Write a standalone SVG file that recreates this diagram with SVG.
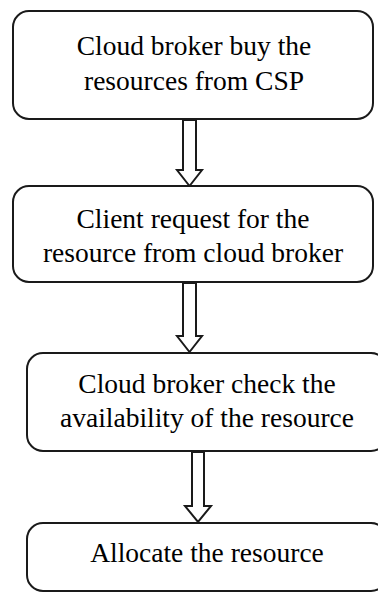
<svg xmlns="http://www.w3.org/2000/svg" width="378" height="593" viewBox="0 0 378 593">
<style>
.box{fill:#fff;stroke:#1a1a1a;stroke-width:2}
.arr{fill:#fff;stroke:#1a1a1a;stroke-width:2;stroke-linejoin:miter}
text{font-family:"Liberation Serif","Times New Roman",serif;font-size:27.5px;fill:#000;text-anchor:middle}
</style>
<rect width="378" height="593" fill="#fff"/>
<g id="connectors">
<polygon class="arr" points="183,120 196,120 196,170 202,170 189.5,186 177,170 183,170"/>
<polygon class="arr" points="183,283 196,283 196,336 202,336 189.5,352 177,336 183,336"/>
<polygon class="arr" points="192,452 204,452 204,506 211,506 198,522 185,506 192,506"/>
</g>
<g id="n1">
<rect class="box" x="13" y="11" width="360" height="108" rx="16"/>
<text x="194" y="55">Cloud broker buy the</text>
<text x="194" y="90">resources from CSP</text>
</g>
<g id="n2">
<rect class="box" x="13" y="186" width="360" height="96" rx="16"/>
<text x="193" y="228">Client request for the</text>
<text x="193" y="262">resource from cloud broker</text>
</g>
<g id="n3">
<rect class="box" x="27" y="353" width="360" height="98" rx="16"/>
<text x="207" y="393">Cloud broker check the</text>
<text x="207" y="427">availability of the resource</text>
</g>
<g id="n4">
<rect class="box" x="27" y="523" width="360" height="68" rx="16"/>
<text x="207" y="562">Allocate the resource</text>
</g>
</svg>
